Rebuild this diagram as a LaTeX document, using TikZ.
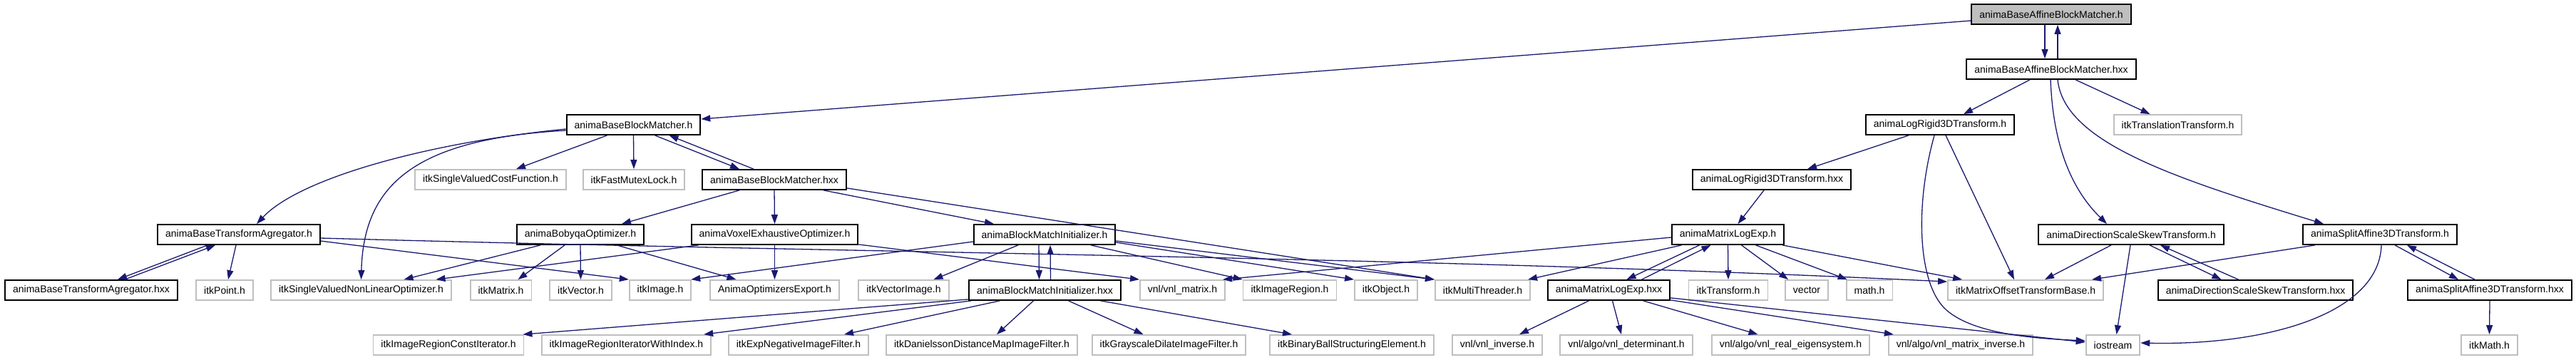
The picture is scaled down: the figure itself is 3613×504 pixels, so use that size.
\documentclass[tikz,border=0pt]{standalone}
\usepackage{fontspec}
\setmainfont{Liberation Sans}
\usepackage{tikz}
\usetikzlibrary{arrows.meta,calc}
\definecolor{edgeblue}{HTML}{191970}
\definecolor{grey75}{HTML}{BFBFBF}
\tikzset{
  hdr/.style ={draw=black, rectangle, line width=1.8pt, inner xsep=11pt, inner ysep=0pt, minimum height=28pt, font=\fontsize{14}{16}\selectfont},
  cur/.style ={hdr, fill=grey75},
  ext/.style ={hdr, draw=grey75},
  dep/.style ={draw=edgeblue, line width=1.3pt, -{Triangle[length=13pt,width=9pt]}},
}

\begin{document}
\begin{tikzpicture}[x=1pt, y=-1pt]
  \useasboundingbox (0,0) rectangle (3613,504);

  % row 0 -- 2
  \node[cur] (bab)  at (2877,20)  {animaBaseAffineBlockMatcher.h};
  \node[hdr] (babx) at (2877,97)  {animaBaseAffineBlockMatcher.hxx};
  \node[hdr] (bbm)  at (888.5,175) {animaBaseBlockMatcher.h};
  \node[hdr] (lr)   at (2721,175) {animaLogRigid3DTransform.h};
  \node[ext] (tt)   at (3054.5,175) {itkTranslationTransform.h};

  % row 3
  \node[ext] (svcf) at (688,252)  {itkSingleValuedCostFunction.h};
  \node[ext] (fml)  at (889,252)  {itkFastMutexLock.h};
  \node[hdr] (bbmx) at (1086,252) {animaBaseBlockMatcher.hxx};
  \node[hdr] (lrx)  at (2485,252) {animaLogRigid3DTransform.hxx};

  % row 4
  \node[hdr] (bta)  at (335,329)  {animaBaseTransformAgregator.h};
  \node[hdr] (bob)  at (814,329)  {animaBobyqaOptimizer.h};
  \node[hdr] (veo)  at (1086.5,329) {animaVoxelExhaustiveOptimizer.h};
  \node[hdr] (bmi)  at (1465,329) {animaBlockMatchInitializer.h};
  \node[hdr] (mle)  at (2423.5,329) {animaMatrixLogExp.h};
  \node[hdr] (dss)  at (2989,329) {animaDirectionScaleSkewTransform.h};
  \node[hdr] (sa)   at (3338,329) {animaSplitAffine3DTransform.h};

  % row 5
  \node[hdr] (btax) at (128,407)  {animaBaseTransformAgregator.hxx};
  \node[ext] (pt)   at (315,407)  {itkPoint.h};
  \node[ext] (svnlo) at (506.5,407) {itkSingleValuedNonLinearOptimizer.h};
  \node[ext] (mat)  at (702.5,407) {itkMatrix.h};
  \node[ext] (vec)  at (814.5,407) {itkVector.h};
  \node[ext] (img)  at (926,407)  {itkImage.h};
  \node[ext] (aoe)  at (1086.5,407) {AnimaOptimizersExport.h};
  \node[ext] (vimg) at (1267.5,407) {itkVectorImage.h};
  \node[hdr] (bmix) at (1465.5,407) {animaBlockMatchInitializer.hxx};
  \node[ext] (vnlm) at (1658.5,407) {vnl/vnl\_matrix.h};
  \node[ext] (ireg) at (1809,407) {itkImageRegion.h};
  \node[ext] (obj)  at (1944,407) {itkObject.h};
  \node[ext] (mth)  at (2079.5,407) {itkMultiThreader.h};
  \node[hdr] (mlex) at (2256.5,407) {animaMatrixLogExp.hxx};
  \node[ext] (tr)   at (2424,407) {itkTransform.h};
  \node[ext] (vect) at (2534,407) {vector};
  \node[ext] (math) at (2622,407) {math.h};
  \node[ext] (motb) at (2841,407) {itkMatrixOffsetTransformBase.h};
  \node[hdr] (dssx) at (3163.5,407) {animaDirectionScaleSkewTransform.hxx};
  \node[hdr] (sax)  at (3492,407) {animaSplitAffine3DTransform.hxx};

  % row 6
  \node[ext] (ircit) at (629,484)  {itkImageRegionConstIterator.h};
  \node[ext] (iriwi) at (878.5,484) {itkImageRegionIteratorWithIndex.h};
  \node[ext] (eni)  at (1120,484) {itkExpNegativeImageFilter.h};
  \node[ext] (ddm)  at (1377,484) {itkDanielssonDistanceMapImageFilter.h};
  \node[ext] (gdi)  at (1639.5,484) {itkGrayscaleDilateImageFilter.h};
  \node[ext] (bbse) at (1896,484) {itkBinaryBallStructuringElement.h};
  \node[ext] (vinv) at (2100,484) {vnl/vnl\_inverse.h};
  \node[ext] (vdet) at (2281,484) {vnl/algo/vnl\_determinant.h};
  \node[ext] (vres) at (2511.5,484) {vnl/algo/vnl\_real\_eigensystem.h};
  \node[ext] (vmi)  at (2750,484) {vnl/algo/vnl\_matrix\_inverse.h};
  \node[ext] (ios)  at (2963.5,484) {iostream};
  \node[ext] (imath) at (3491.5,484) {itkMath.h};

  % affine block matcher
  \draw[dep] ([yshift=-9pt]bab.west) -- ([yshift=8pt]bbm.east);
  \draw[dep] ([xshift=-9pt]bab.south) -- ([xshift=-9pt]babx.north);
  \draw[dep] ([xshift=9pt]babx.north) -- ([xshift=9pt]bab.south);
  \draw[dep] ([xshift=-30pt]babx.south) -- ([xshift=33pt]lr.north);
  \draw[dep] ([xshift=34pt]babx.south) -- ([xshift=-39pt]tt.north);
  \draw[dep] ([xshift=-1pt]babx.south) .. controls (2880,220) and (2915,275) .. ([xshift=-34pt]dss.north);
  \draw[dep] ([xshift=9pt]babx.south) .. controls (2895,200) and (3050,250) .. ([xshift=-79pt]sa.north);

  % log rigid
  \draw[dep] ([xshift=-44pt]lr.south) -- ([xshift=50pt]lrx.north);
  \draw[dep] ([xshift=-8pt]lr.south) .. controls (2685,290) and (2690,400) .. (2730,435)
    .. controls (2770,470) and (2860,475) .. ([yshift=6pt]ios.west);
  \draw[dep] ([xshift=8pt]lr.south) -- ([xshift=-16pt]motb.north);
  \draw[dep] ([xshift=-11pt]lrx.south) -- ([xshift=14pt]mle.north);

  % matrix log exp
  \draw[dep] ([yshift=-4pt]mle.west) -- ([xshift=-4pt]vnlm.north east);
  \draw[dep] ([xshift=-65pt]mle.south) -- ([xshift=-4pt]mth.north east);
  \draw[dep] ([xshift=-40pt]mle.south) -- ([xshift=25pt]mlex.north);
  \draw[dep] ([xshift=46pt]mlex.north) -- ([xshift=-24pt]mle.south);
  \draw[dep] (mle.south) -- (tr.north);
  \draw[dep] ([xshift=19pt]mle.south) -- ([xshift=5pt]vect.north west);
  \draw[dep] ([xshift=39pt]mle.south) -- ([xshift=2pt]math.north west);
  \draw[dep] ([xshift=-3pt]mle.south east) -- ([xshift=21pt]motb.north west);
  \draw[dep] ([xshift=-28pt]mlex.south) -- ([xshift=31pt]vinv.north);
  \draw[dep] ([xshift=5pt]mlex.south) -- ([xshift=-7pt]vdet.north);
  \draw[dep] ([xshift=48pt]mlex.south) -- ([xshift=-46pt]vres.north);
  \draw[dep] ([yshift=1pt]mlex.south east) -- ([xshift=8pt]vmi.north west);
  \draw[dep] ([yshift=4pt]mlex.south east) -- ([yshift=4pt]ios.west);

  % direction scale skew, split affine
  \draw[dep] ([xshift=-28pt]dss.south) -- ([xshift=27pt]motb.north);
  \draw[dep] ([xshift=-1pt]dss.south) -- ([xshift=5pt]ios.north);
  \draw[dep] ([xshift=26pt]dss.south) -- ([xshift=-48pt]dssx.north);
  \draw[dep] ([xshift=-24pt]dssx.north) -- ([xshift=41pt]dss.south);
  \draw[dep] ([xshift=-91pt]sa.south) -- ([xshift=93pt]motb.north);
  \draw[dep] ([xshift=2pt]sa.south) .. controls (3337,440) and (3180,485) .. ([yshift=3pt]ios.east);
  \draw[dep] ([xshift=21pt]sa.south) -- ([xshift=-44pt]sax.north);
  \draw[dep] ([xshift=-21pt]sax.north) -- ([xshift=38pt]sa.south);
  \draw[dep] (sax.south) -- (imath.north);

  % base block matcher
  \draw[dep] ([xshift=-37pt]bbm.south) -- ([xshift=36pt]svcf.north);
  \draw[dep] (bbm.south) -- (fml.north);
  \draw[dep] ([xshift=30pt]bbm.south) -- ([xshift=-49pt]bbmx.north);
  \draw[dep] ([xshift=-29pt]bbmx.north) -- ([xshift=50pt]bbm.south);
  \draw[dep] ([yshift=-6pt]bbm.west) .. controls (600,200) and (420,250) .. ([xshift=25pt]bta.north);
  \draw[dep] ([yshift=-8pt]bbm.west) .. controls (580,195) and (510,260) .. (svnlo.north);
  \draw[dep] ([xshift=-49pt]bbmx.south) -- ([xshift=58pt]bob.north);
  \draw[dep] (bbmx.south) -- (veo.north);
  \draw[dep] ([xshift=69pt]bbmx.south) -- ([xshift=-71pt]bmi.north);
  \draw[dep] ([yshift=3pt]bbmx.south east) -- (mth.north west);

  % transform agregator
  \draw[dep] ([xshift=-44pt]bta.south) -- ([xshift=37pt]btax.north);
  \draw[dep] ([xshift=47pt]btax.north) -- ([xshift=-33pt]bta.south);
  \draw[dep] ([xshift=-4pt]bta.south) -- ([xshift=5pt]pt.north);
  \draw[dep] ([yshift=-9pt]bta.east) -- (img.north west);
  \draw[dep] ([yshift=-5pt]bta.east) .. controls (1200,355) and (2000,360) .. ([yshift=-3pt]motb.north west);

  % optimizers
  \draw[dep] ([xshift=-56pt]bob.south) -- ([xshift=60pt]svnlo.north);
  \draw[dep] ([xshift=-22pt]bob.south) -- ([xshift=24pt]mat.north);
  \draw[dep] (bob.south) -- (vec.north);
  \draw[dep] ([xshift=51pt]bob.south) -- ([xshift=-54pt]aoe.north);
  \draw[dep] ([xshift=-107pt]veo.south) -- ([xshift=105pt]svnlo.north);
  \draw[dep] (veo.south) -- (aoe.north);
  \draw[dep] ([yshift=1pt]veo.south east) -- (vnlm.north west);

  % block match initializer
  \draw[dep] ([yshift=-10pt]bmi.west) -- ([xshift=-1pt]img.north east);
  \draw[dep] ([xshift=-37pt]bmi.south) -- ([xshift=42pt]vimg.north);
  \draw[dep] ([xshift=-8pt]bmi.south) -- ([xshift=-8pt]bmix.north);
  \draw[dep] ([xshift=8pt]bmix.north) -- ([xshift=8pt]bmi.south);
  \draw[dep] ([xshift=65pt]bmi.south) -- (ireg.north west);
  \draw[dep] ([yshift=-11pt]bmi.east) -- (obj.north west);
  \draw[dep] ([yshift=-9pt]bmi.east) -- (mth.north west);
  \draw[dep] ([yshift=2pt]bmix.south west) -- ([xshift=-2pt]ircit.north east);
  \draw[dep] ([xshift=4pt]bmix.south west) -- ([xshift=-11pt]iriwi.north east);
  \draw[dep] ([xshift=-63pt]bmix.south) -- ([xshift=64pt]eni.north);
  \draw[dep] ([xshift=-16pt]bmix.south) -- ([xshift=21pt]ddm.north);
  \draw[dep] ([xshift=33pt]bmix.south) -- ([xshift=-36pt]gdi.north);
  \draw[dep] ([xshift=78pt]bmix.south) -- ([xshift=-84pt]bbse.north);
\end{tikzpicture}
\end{document}
